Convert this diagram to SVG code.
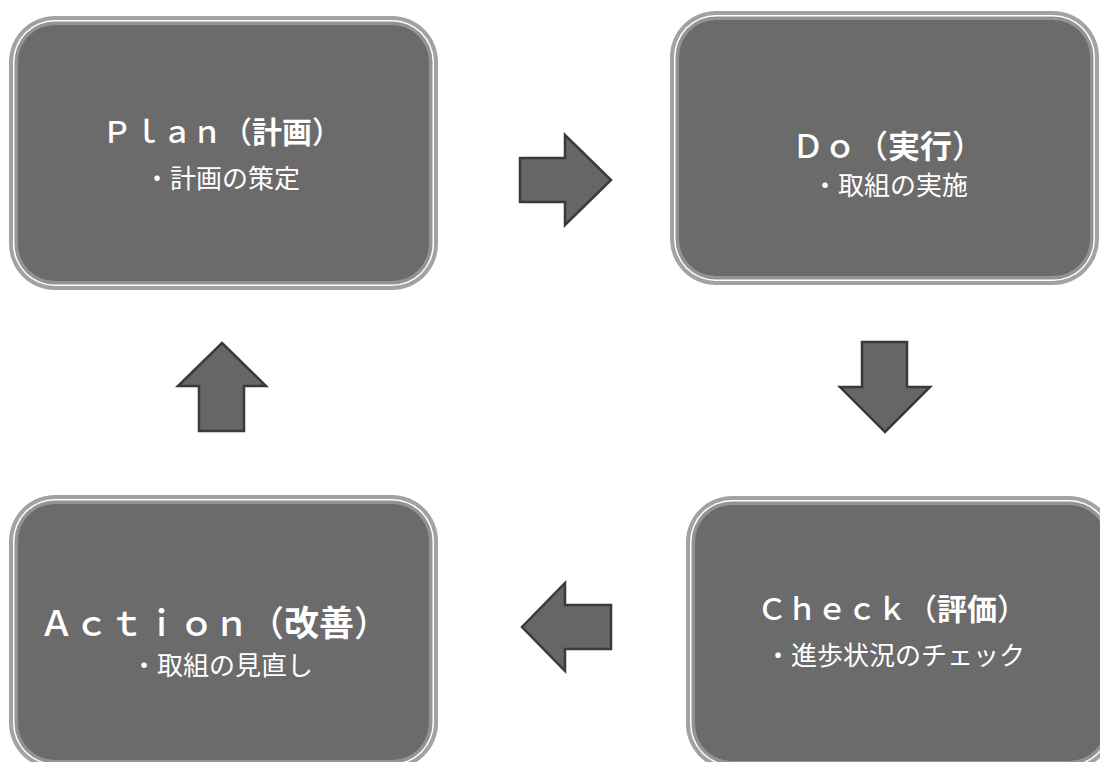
<svg xmlns="http://www.w3.org/2000/svg" width="1100" height="762" viewBox="0 0 1100 762">
<style>
.b1{fill:#a2a2a2}
.b2{fill:#ffffff}
.b3{fill:#939393}
.b4{fill:#6b6b6b}
.t{font-family:"Noto Sans CJK JP","Noto Sans",sans-serif;fill:#ffffff;text-anchor:middle}
.tt{font-weight:500}
.su{font-size:26px}
.k{font-weight:bold}
.ar{fill:#666666;stroke:#3a3a3a;stroke-width:2.5;stroke-linejoin:miter}
</style>
<defs>
<g id="box">
<rect class="b1" x="0" y="0" width="429" height="274" rx="46"/>
<rect class="b2" x="4" y="4" width="421" height="266" rx="42"/>
<rect class="b3" x="5.5" y="5.5" width="418" height="263" rx="40.5"/>
<rect class="b4" x="9" y="9" width="411" height="256" rx="37"/>
</g>
</defs>
<rect width="1100" height="762" fill="#ffffff"/>
<g id="plan">
<use href="#box" x="9" y="16"/>
<text class="t tt" font-size="30" x="222" y="143">Ｐｌａｎ（<tspan class="k">計画</tspan>）</text>
<text class="t su" x="222" y="188">・計画の策定</text>
</g>
<g id="do">
<use href="#box" x="670" y="11"/>
<text class="t tt" font-size="32" x="888" y="158">Ｄｏ（<tspan class="k">実行</tspan>）</text>
<text class="t su" x="890" y="195">・取組の実施</text>
</g>
<g id="check">
<use href="#box" x="686" y="496"/>
<text class="t tt" font-size="30" x="892" y="620">Ｃｈｅｃｋ（<tspan class="k">評価</tspan>）</text>
<text class="t su" x="895" y="665">・進歩状況のチェック</text>
</g>
<g id="action">
<use href="#box" x="9" y="495"/>
<text class="t tt" font-size="35" x="214" y="636">Ａｃｔｉｏｎ（<tspan class="k">改善</tspan>）</text>
<text class="t su" x="222" y="675">・取組の見直し</text>
</g>
<g id="connectors">
<polygon class="ar" points="520,158 565,158 565,135 611,180 565,225 565,202 520,202"/>
<polygon class="ar" points="862,342 907,342 907,387 930,387 885,432 840,387 862,387"/>
<polygon class="ar" points="611,605 565,605 565,583 522,627 565,671 565,649 611,649"/>
<polygon class="ar" points="222,343 266,386 244,386 244,431 199,431 199,386 178,386"/>
</g>
</svg>
